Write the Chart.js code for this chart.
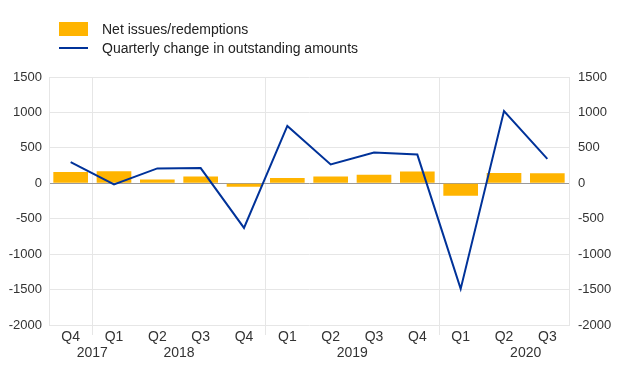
<!DOCTYPE html>
<html>
<head>
<meta charset="utf-8">
<script src="https://cdn.jsdelivr.net/npm/chart.js"></script>
<style>
  html, body { margin: 0; padding: 0; background: #fff; }
  .wrap { position: relative; width: 620px; height: 387px; font-family: "Liberation Sans", Arial, sans-serif; }
  .legend { position: absolute; left: 59px; top: 19px; color: #222; font-size: 14px; }
  .legend-item { display: flex; align-items: center; height: 19px; }
  .legend-swatch { width: 29px; height: 14px; margin-right: 14px; display: flex; align-items: center; }
  .legend-swatch .line { width: 29px; height: 2px; }
</style>
</head>
<body>
<div class="wrap">
  <canvas id="chart" width="620" height="387"></canvas>
  <div class="legend" id="legend"></div>
</div>
<script>
// chart data
const quarters = ['Q4', 'Q1', 'Q2', 'Q3', 'Q4', 'Q1', 'Q2', 'Q3', 'Q4', 'Q1', 'Q2', 'Q3'];
const netIssues = [160, 170, 55, 95, -50, 75, 95, 120, 165, -175, 145, 140];
const quarterlyChange = [300, -15, 210, 215, -630, 810, 265, 435, 405, -1490, 1020, 345];
const yearLabels = ['2017', '2018', '2019', '2020'];
const yearTickPos = [0.5, 2.5, 6.5, 10.5];
const yearBreaks = [1, 5, 9];
const yTicks = [1500, 1000, 500, 0, -500, -1000, -1500, -2000];

const yellow = '#ffb400';
const blue = '#003299';
const gridColor = '#e6e6e6';
const textColor = '#333333';

const yAxisBase = {
  type: 'linear',
  min: -2000,
  max: 1500,
  afterBuildTicks: scale => { scale.ticks = yTicks.map(v => ({ value: v })); },
  border: { display: true, color: gridColor },
  ticks: {
    color: textColor,
    font: { size: 13, family: 'Liberation Sans' },
    callback: v => String(v)
  }
};

const chart = new Chart(document.getElementById('chart'), {
  data: {
    labels: quarters,
    datasets: [
      {
        type: 'bar',
        label: 'Net issues/redemptions',
        data: netIssues,
        backgroundColor: yellow,
        categoryPercentage: 0.8,
        barPercentage: 1,
        order: 1
      },
      {
        type: 'line',
        label: 'Quarterly change in outstanding amounts',
        data: quarterlyChange,
        borderColor: blue,
        backgroundColor: blue,
        borderWidth: 2,
        pointRadius: 0,
        tension: 0,
        order: 0
      }
    ]
  },
  options: {
    responsive: false,
    animation: false,
    layout: { padding: { top: 77, left: 0, right: 0, bottom: 0 } },
    plugins: { legend: { display: false }, tooltip: { enabled: false } },
    scales: {
      x: {
        type: 'category',
        offset: true,
        grid: {
          offset: true,
          color: ctx => yearBreaks.includes(ctx.index) ? gridColor : 'rgba(0,0,0,0)',
          tickLength: 10
        },
        border: { display: false },
        ticks: { color: textColor, padding: -6, maxRotation: 0, font: { size: 14, family: 'Liberation Sans' } },
        afterFit: scale => { scale.height = 20; }
      },
      years: {
        type: 'linear',
        position: 'bottom',
        min: -0.5,
        max: 11.5,
        afterBuildTicks: scale => { scale.ticks = yearTickPos.map(v => ({ value: v })); },
        grid: { display: false, drawTicks: false },
        border: { display: false },
        ticks: {
          color: textColor,
          padding: 0,
          font: { size: 14, family: 'Liberation Sans' },
          callback: (v) => yearLabels[yearTickPos.indexOf(v)]
        },
        afterFit: scale => { scale.height = 42; }
      },
      y: {
        ...yAxisBase,
        position: 'left',
        grid: {
          drawTicks: false,
          color: ctx => ctx.tick && ctx.tick.value === 0 ? '#9a9a9a' : gridColor
        },
        ticks: { ...yAxisBase.ticks, padding: 7 },
        afterFit: scale => { scale.width = 49; }
      },
      y2: {
        ...yAxisBase,
        position: 'right',
        grid: { display: false, drawTicks: false },
        ticks: { ...yAxisBase.ticks, padding: 9 },
        afterFit: scale => { scale.width = 51; }
      }
    }
  }
});

// html legend, stacked vertically like the original
const legendEl = document.getElementById('legend');
chart.data.datasets.forEach(ds => {
  const item = document.createElement('div');
  item.className = 'legend-item';
  const sw = document.createElement('span');
  sw.className = 'legend-swatch';
  if (ds.type === 'bar') {
    sw.style.background = ds.backgroundColor;
  } else {
    const ln = document.createElement('span');
    ln.className = 'line';
    ln.style.background = ds.borderColor;
    sw.appendChild(ln);
  }
  item.appendChild(sw);
  item.appendChild(document.createTextNode(ds.label));
  legendEl.appendChild(item);
});
</script>
</body>
</html>
